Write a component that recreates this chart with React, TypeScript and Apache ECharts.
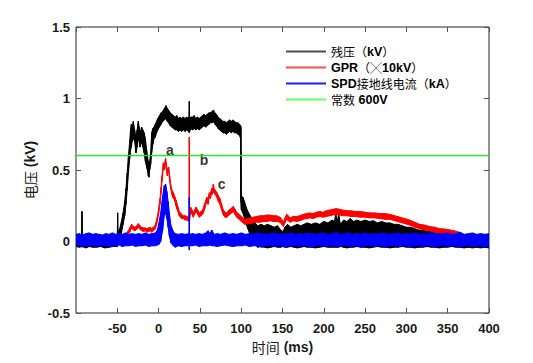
import React, { useEffect, useRef } from "react";
import * as echarts from "echarts";

// Axis ranges
const X_MIN = -100;
const X_MAX = 400;
const X_STEP = 50;
const Y_MIN = -0.5;
const Y_MAX = 1.5;
const Y_STEP = 0.5;

// 残压 (kV): [time ms, lower envelope, upper envelope]
const RESIDUAL: [number, number, number][] = [
  [-100, -0.035, 0.025], [-96, -0.04, 0.03], [-93.2, -0.035, 0.02], [-92.8, -0.04, 0.21], [-92.4, -0.035, 0.025],
  [-88, -0.045, 0.03], [-84, -0.035, 0.02], [-80, -0.04, 0.03], [-75, -0.04, 0.025], [-70, -0.035, 0.03],
  [-65, -0.045, 0.02], [-60, -0.04, 0.03], [-55, -0.035, 0.025], [-50, -0.035, 0.03], [-49.6, 0.0, 0.2],
  [-49.2, 0.0, 0.06], [-47, 0.02, 0.09], [-45, 0.06, 0.14], [-43, 0.12, 0.2], [-41, 0.18, 0.28],
  [-39.5, 0.26, 0.37], [-38, 0.36, 0.48], [-36.5, 0.48, 0.6], [-35, 0.58, 0.7], [-34, 0.64, 0.78],
  [-33, 0.66, 0.82], [-32, 0.7, 0.8], [-30.6, 0.72, 0.84], [-29, 0.7, 0.78], [-27.4, 0.62, 0.72],
  [-26, 0.66, 0.78], [-24.6, 0.72, 0.84], [-23.5, 0.7, 0.8], [-22.5, 0.66, 0.75], [-21.5, 0.68, 0.78],
  [-20.5, 0.7, 0.8], [-19, 0.66, 0.78], [-17.5, 0.62, 0.76], [-16, 0.56, 0.72], [-14.5, 0.52, 0.64],
  [-13.5, 0.5, 0.6], [-12.5, 0.46, 0.56], [-11.7, 0.45, 0.52], [-10.8, 0.5, 0.56], [-9.6, 0.54, 0.62],
  [-8.4, 0.62, 0.76], [-7, 0.68, 0.79], [-5.5, 0.72, 0.8], [-4, 0.73, 0.82], [-2.5, 0.76, 0.84],
  [-1, 0.78, 0.86], [1, 0.8, 0.88], [3, 0.82, 0.9], [5, 0.84, 0.91], [7, 0.85, 0.93],
  [9, 0.86, 0.95], [10.5, 0.84, 0.93], [12, 0.83, 0.92], [14, 0.81, 0.9], [16, 0.8, 0.89],
  [18, 0.79, 0.88], [20, 0.78, 0.87], [22, 0.78, 0.88], [24, 0.77, 0.86], [26, 0.78, 0.87],
  [28, 0.77, 0.86], [30, 0.78, 0.87], [32, 0.77, 0.86], [34, 0.78, 0.87], [36, 0.77, 0.86],
  [36.8, 0.78, 0.87], [37.2, 0.76, 0.98], [37.6, 0.77, 0.86], [39, 0.79, 0.87], [41, 0.78, 0.87],
  [43, 0.79, 0.88], [45, 0.78, 0.86], [47, 0.79, 0.87], [49, 0.78, 0.86], [51, 0.79, 0.87],
  [53, 0.8, 0.88], [55, 0.81, 0.89], [57, 0.8, 0.88], [59, 0.81, 0.89], [61, 0.82, 0.9],
  [63, 0.83, 0.9], [65, 0.83, 0.91], [66.5, 0.84, 0.92], [68, 0.82, 0.9], [70, 0.81, 0.89],
  [72, 0.79, 0.87], [74, 0.78, 0.86], [76, 0.77, 0.85], [78, 0.76, 0.84], [80, 0.76, 0.84],
  [82, 0.75, 0.83], [84, 0.76, 0.84], [86, 0.77, 0.85], [88, 0.76, 0.84], [90, 0.77, 0.85],
  [92, 0.76, 0.84], [94, 0.76, 0.83], [96, 0.75, 0.83], [98, 0.74, 0.82], [99.3, 0.72, 0.81],
  [99.6, 0.28, 0.8], [100.2, 0.22, 0.32], [102, 0.2, 0.31], [104, 0.16, 0.28], [106, 0.12, 0.24],
  [108, 0.09, 0.21], [110, 0.06, 0.19], [112, 0.03, 0.17], [114, 0.0, 0.16], [116, -0.02, 0.14],
  [118, -0.03, 0.12], [120, -0.04, 0.11], [124, -0.035, 0.12], [128, -0.04, 0.11], [132, -0.045, 0.12],
  [136, -0.04, 0.11], [140, -0.035, 0.1], [144, -0.04, 0.11], [148, -0.04, 0.08], [150, -0.035, 0.065],
  [153, -0.04, 0.1], [156, -0.04, 0.12], [160, -0.035, 0.1], [164, -0.04, 0.11], [168, -0.045, 0.12],
  [172, -0.04, 0.11], [176, -0.035, 0.12], [180, -0.04, 0.13], [185, -0.04, 0.12], [190, -0.045, 0.13],
  [195, -0.04, 0.12], [200, -0.035, 0.14], [205, -0.04, 0.13], [210, -0.04, 0.15], [213, -0.04, 0.14],
  [214.5, -0.04, 0.2], [216, -0.04, 0.13], [218, -0.04, 0.19], [220, -0.035, 0.12], [224, -0.04, 0.15],
  [228, -0.045, 0.14], [232, -0.04, 0.16], [236, -0.04, 0.14], [240, -0.035, 0.15], [245, -0.04, 0.14],
  [250, -0.04, 0.15], [255, -0.045, 0.14], [260, -0.04, 0.145], [265, -0.035, 0.13], [270, -0.04, 0.14],
  [275, -0.04, 0.13], [280, -0.045, 0.13], [285, -0.04, 0.12], [290, -0.04, 0.12], [295, -0.035, 0.11],
  [300, -0.04, 0.1], [305, -0.04, 0.1], [310, -0.045, 0.09], [315, -0.04, 0.08], [320, -0.04, 0.08],
  [325, -0.035, 0.07], [330, -0.04, 0.07], [335, -0.04, 0.065], [340, -0.045, 0.06], [345, -0.04, 0.06],
  [350, -0.04, 0.055], [355, -0.035, 0.055], [360, -0.04, 0.05], [365, -0.04, 0.04], [370, -0.045, 0.03],
  [375, -0.04, 0.03], [380, -0.045, 0.025], [385, -0.04, 0.03], [390, -0.045, 0.025], [395, -0.04, 0.03],
  [400, -0.045, 0.025],
];

// GPR (×10kV): [time ms, lower envelope, upper envelope]
const GPR: [number, number, number][] = [
  [-100, 0.01, 0.04], [-80, 0.01, 0.045], [-60, 0.015, 0.04], [-40, 0.02, 0.05], [-36.7, 0.05, 0.075],
  [-34.5, 0.07, 0.1], [-32.6, 0.095, 0.12], [-30.5, 0.08, 0.105], [-28.6, 0.075, 0.1], [-26.5, 0.085, 0.11],
  [-24.6, 0.1, 0.125], [-22.5, 0.085, 0.11], [-20.5, 0.075, 0.1], [-18, 0.07, 0.095], [-16, 0.075, 0.095],
  [-14.5, 0.065, 0.09], [-12, 0.07, 0.095], [-10, 0.075, 0.1], [-8.4, 0.065, 0.09], [-6.5, 0.075, 0.1],
  [-4.4, 0.085, 0.11], [-2.8, 0.11, 0.14], [-1.6, 0.14, 0.17], [0, 0.19, 0.23], [1.7, 0.26, 0.3],
  [3, 0.34, 0.38], [4.1, 0.42, 0.46], [5.7, 0.51, 0.55], [7, 0.5, 0.54], [8.5, 0.55, 0.58],
  [9.5, 0.5, 0.54], [10.5, 0.46, 0.5], [11.3, 0.48, 0.51], [12.2, 0.49, 0.52], [13.4, 0.42, 0.46],
  [14.6, 0.37, 0.4], [16, 0.33, 0.36], [17, 0.31, 0.35], [18.5, 0.3, 0.33], [19.8, 0.28, 0.31],
  [21, 0.25, 0.29], [21.9, 0.23, 0.27], [23.5, 0.21, 0.24], [25, 0.18, 0.21], [26.5, 0.17, 0.2],
  [27.9, 0.16, 0.19], [30, 0.16, 0.18], [32, 0.15, 0.18], [34, 0.15, 0.175], [36, 0.145, 0.17],
  [36.9, 0.14, 0.17], [37.2, 0.14, 0.73], [37.5, 0.15, 0.2], [38.8, 0.21, 0.24], [40.5, 0.19, 0.22],
  [42, 0.17, 0.2], [43.5, 0.19, 0.22], [45.3, 0.21, 0.24], [47.3, 0.19, 0.22], [49.3, 0.17, 0.2],
  [51.3, 0.18, 0.21], [53.3, 0.19, 0.22], [55.5, 0.22, 0.26], [58.2, 0.28, 0.31], [59.8, 0.26, 0.3],
  [61.4, 0.31, 0.34], [62.8, 0.3, 0.34], [64.2, 0.34, 0.37], [65.3, 0.33, 0.36], [66.2, 0.36, 0.4],
  [67.3, 0.34, 0.37], [68.5, 0.33, 0.36], [70.3, 0.31, 0.345], [72.3, 0.28, 0.32], [74.3, 0.26, 0.3],
  [76.3, 0.22, 0.26], [78.4, 0.185, 0.22], [80.4, 0.17, 0.205], [82.4, 0.17, 0.2], [84.4, 0.18, 0.215],
  [86.4, 0.19, 0.225], [88.5, 0.2, 0.235], [90.5, 0.21, 0.245], [92.5, 0.19, 0.225], [94.5, 0.17, 0.205],
  [96.5, 0.16, 0.195], [98.5, 0.15, 0.185], [101, 0.135, 0.17], [104.6, 0.12, 0.155], [107.5, 0.125, 0.16],
  [110.6, 0.125, 0.165], [114.5, 0.13, 0.17], [118.7, 0.135, 0.175], [123, 0.135, 0.18], [127, 0.14, 0.18],
  [131, 0.14, 0.185], [135, 0.145, 0.185], [139, 0.14, 0.18], [143, 0.14, 0.18], [147, 0.135, 0.17],
  [149, 0.12, 0.155], [151, 0.105, 0.135], [153, 0.13, 0.165], [155, 0.155, 0.19], [157, 0.145, 0.18],
  [159, 0.135, 0.165], [163, 0.145, 0.175], [167, 0.14, 0.175], [171, 0.145, 0.18], [175, 0.155, 0.19],
  [179, 0.16, 0.195], [183, 0.165, 0.2], [187, 0.16, 0.195], [191, 0.17, 0.205], [195, 0.175, 0.21],
  [199, 0.17, 0.205], [203, 0.175, 0.215], [207, 0.18, 0.22], [211, 0.185, 0.225], [215, 0.19, 0.23],
  [219, 0.185, 0.225], [223, 0.18, 0.22], [228, 0.18, 0.215], [233, 0.175, 0.215], [238, 0.175, 0.21],
  [244, 0.17, 0.21], [250, 0.17, 0.205], [256, 0.165, 0.2], [262, 0.165, 0.2], [268, 0.16, 0.195],
  [274, 0.155, 0.195], [280, 0.155, 0.19], [286, 0.145, 0.18], [292, 0.135, 0.17], [298, 0.125, 0.16],
  [304, 0.115, 0.15], [310, 0.1, 0.135], [316, 0.09, 0.12], [322, 0.08, 0.115], [328, 0.075, 0.105],
  [334, 0.065, 0.1], [340, 0.06, 0.09], [346, 0.058, 0.088], [352, 0.055, 0.082], [358, 0.05, 0.075],
  [364, 0.045, 0.065], [370, 0.02, 0.045], [380, 0.01, 0.04], [400, 0.01, 0.04],
];

// SPD 接地线电流 (kA): [time ms, lower envelope, upper envelope]
const SPD: [number, number, number][] = [
  [-100, -0.03, 0.05], [-96, -0.025, 0.055], [-92, -0.035, 0.045], [-88, -0.03, 0.055], [-84, -0.03, 0.06],
  [-80, -0.025, 0.05], [-76, -0.035, 0.055], [-72, -0.03, 0.05], [-68, -0.03, 0.045], [-64, -0.025, 0.055],
  [-60, -0.035, 0.05], [-56, -0.03, 0.06], [-52, -0.03, 0.05], [-48, -0.025, 0.055], [-44, -0.035, 0.05],
  [-40, -0.03, 0.06], [-36, -0.03, 0.05], [-32, -0.025, 0.055], [-28, -0.035, 0.05], [-24, -0.03, 0.055],
  [-20, -0.03, 0.05], [-16, -0.025, 0.06], [-12, -0.035, 0.05], [-8, -0.03, 0.055], [-4, -0.03, 0.06],
  [-1.5, -0.025, 0.08], [0.5, -0.02, 0.13], [2.5, 0.0, 0.2], [4.9, 0.08, 0.32], [6.9, 0.18, 0.39],
  [8.5, 0.2, 0.4], [10, 0.16, 0.35], [11.5, 0.1, 0.28], [13, 0.04, 0.2], [15, -0.01, 0.11],
  [17.8, -0.03, 0.07], [20, -0.04, 0.055], [24, -0.03, 0.05], [28, -0.035, 0.055], [32, -0.03, 0.05],
  [36.9, -0.03, 0.055], [37.2, -0.06, 0.31], [37.5, -0.03, 0.05], [41, -0.03, 0.055], [45, -0.025, 0.05],
  [49, -0.035, 0.055], [53, -0.03, 0.05], [57, -0.03, 0.06], [60, -0.03, 0.075], [62, -0.025, 0.055],
  [64.5, -0.03, 0.08], [67, -0.03, 0.05], [71, -0.035, 0.055], [75, -0.03, 0.05], [80, -0.025, 0.06],
  [85, -0.03, 0.05], [90, -0.035, 0.055], [95, -0.03, 0.05], [100, -0.03, 0.06], [105, -0.025, 0.05],
  [110, -0.035, 0.055], [115, -0.03, 0.05], [120, -0.03, 0.06], [125, -0.04, 0.055], [130, -0.03, 0.05],
  [135, -0.025, 0.055], [140, -0.035, 0.06], [145, -0.03, 0.05], [150, -0.03, 0.055], [155, -0.04, 0.05],
  [160, -0.03, 0.06], [165, -0.025, 0.05], [170, -0.035, 0.055], [175, -0.03, 0.05], [180, -0.03, 0.06],
  [185, -0.04, 0.055], [190, -0.03, 0.05], [195, -0.025, 0.055], [200, -0.035, 0.06], [205, -0.03, 0.05],
  [210, -0.03, 0.055], [215, -0.04, 0.065], [220, -0.03, 0.05], [225, -0.025, 0.055], [230, -0.035, 0.06],
  [235, -0.03, 0.05], [240, -0.03, 0.055], [245, -0.04, 0.05], [250, -0.03, 0.06], [255, -0.025, 0.05],
  [260, -0.035, 0.055], [265, -0.03, 0.05], [270, -0.03, 0.06], [275, -0.04, 0.055], [280, -0.03, 0.05],
  [285, -0.025, 0.055], [290, -0.035, 0.06], [295, -0.03, 0.05], [300, -0.03, 0.055], [305, -0.04, 0.05],
  [310, -0.03, 0.06], [315, -0.025, 0.05], [320, -0.035, 0.055], [325, -0.03, 0.05], [330, -0.03, 0.06],
  [335, -0.04, 0.055], [340, -0.03, 0.05], [345, -0.025, 0.055], [350, -0.035, 0.06], [355, -0.03, 0.05],
  [360, -0.03, 0.055], [365, -0.04, 0.065], [370, -0.03, 0.05], [375, -0.025, 0.055], [380, -0.035, 0.06],
  [385, -0.03, 0.05], [390, -0.03, 0.055], [395, -0.04, 0.05], [400, -0.03, 0.055],
];

// 常数 600V
const CONSTANT_KV = 0.6;

// Annotations a / b / c
const ANNOT_TEXT = ["a", "b", "c"];
const ANNOT_T = [13.8, 55, 76.4];
const ANNOT_V = [0.64, 0.57, 0.4];

const LEGEND_NAMES = ["残压（kV）", "GPR（╳10kV）", "SPD接地线电流（kA）", "常数 600V"];
const SERIES_COLORS = ["#000000", "#ff0000", "#0000ff", "#00ff00"];
const LEGEND_COLORS = ["#4d4d4d", "#ff4d4d", "#1a1aff", "#66ff66"];

const LATIN = "'Liberation Sans', Arial, sans-serif";
const CJK = "'Noto Sans CJK SC', sans-serif";

function toRich(s: string): string {
  const runs = s.match(/[\x00-\x7F]+|[^\x00-\x7F]+/g) || [];
  return runs.map((r) => (r.charCodeAt(0) < 128 ? `{b|${r}}` : `{n|${r}}`)).join("");
}

// Band between lower and upper envelopes, one quad per pair of neighbouring samples
function bandSeries(name: string, samples: [number, number, number][], color: string) {
  const segs: number[][] = [];
  for (let i = 0; i < samples.length - 1; i++) {
    const a = samples[i];
    const b = samples[i + 1];
    segs.push([a[0], a[1], a[2], b[0], b[1], b[2]]);
  }
  return {
    type: "custom",
    name,
    silent: true,
    clip: true,
    itemStyle: { color },
    encode: { x: [0, 3], y: [1, 2, 4, 5] },
    data: segs,
    renderItem: (_params: any, api: any) => {
      const p1 = api.coord([api.value(0), api.value(1)]);
      const p2 = api.coord([api.value(3), api.value(4)]);
      const p3 = api.coord([api.value(3), api.value(5)]);
      const p4 = api.coord([api.value(0), api.value(2)]);
      return {
        type: "polygon",
        shape: { points: [p1, p2, p3, p4] },
        style: { fill: color, stroke: color, lineWidth: 1, lineJoin: "round" },
      };
    },
  };
}

export default function App() {
  const ref = useRef<HTMLDivElement>(null);

  useEffect(() => {
    if (!ref.current) return;
    const chart = echarts.init(ref.current, undefined, { renderer: "svg" });

    const tickLabel = {
      fontFamily: LATIN,
      fontWeight: "bold" as const,
      fontSize: 13,
      color: "#1a1a1a",
    };
    const nameRich = {
      n: { fontFamily: CJK, fontSize: 14, color: "#1a1a1a" },
      b: { fontFamily: LATIN, fontWeight: "bold", fontSize: 14, color: "#1a1a1a" },
    };
    const tick = { show: true, inside: true, length: 5, lineStyle: { color: "#555", width: 1 } };
    const noLine = { show: false, onZero: false };

    const annotData = ANNOT_TEXT.map((txt, i) => ({ name: txt, value: [ANNOT_T[i], ANNOT_V[i]] }));

    const option: any = {
      animation: false,
      backgroundColor: "#ffffff",
      grid: {
        left: 76,
        top: 27,
        right: 44,
        bottom: 50,
        show: true,
        borderColor: "#262626",
        borderWidth: 1,
        backgroundColor: "transparent",
      },
      legend: {
        orient: "vertical",
        left: 286,
        top: 45,
        padding: 0,
        itemWidth: 40,
        itemHeight: 2,
        itemGap: 3,
        icon: "rect",
        data: LEGEND_NAMES.map((n, i) => ({ name: n, itemStyle: { color: LEGEND_COLORS[i] } })),
        formatter: (name: string) => toRich(name),
        textStyle: {
          fontSize: 12,
          color: "#000",
          rich: {
            n: { fontFamily: CJK, fontSize: 12, lineHeight: 14, color: "#000" },
            b: { fontFamily: LATIN, fontWeight: "bold", fontSize: 12.5, lineHeight: 14, color: "#000" },
          },
        },
        selectedMode: false,
      },
      xAxis: [
        {
          type: "value",
          min: X_MIN,
          max: X_MAX,
          interval: X_STEP,
          position: "bottom",
          axisLine: noLine,
          axisTick: tick,
          splitLine: { show: false },
          axisLabel: { ...tickLabel, margin: 9, showMinLabel: false },
          name: toRich("时间 (ms)"),
          nameLocation: "middle",
          nameGap: 22,
          nameTextStyle: { rich: nameRich },
        },
        {
          type: "value",
          min: X_MIN,
          max: X_MAX,
          interval: X_STEP,
          position: "top",
          axisLine: noLine,
          axisTick: tick,
          splitLine: { show: false },
          axisLabel: { show: false },
        },
      ],
      yAxis: [
        {
          type: "value",
          min: Y_MIN,
          max: Y_MAX,
          interval: Y_STEP,
          position: "left",
          axisLine: noLine,
          axisTick: tick,
          splitLine: { show: false },
          axisLabel: { ...tickLabel, margin: 6 },
          name: toRich("电压 (kV)"),
          nameLocation: "middle",
          nameRotate: 90,
          nameGap: 30,
          nameTextStyle: { rich: nameRich },
        },
        {
          type: "value",
          min: Y_MIN,
          max: Y_MAX,
          interval: Y_STEP,
          position: "right",
          axisLine: noLine,
          axisTick: tick,
          splitLine: { show: false },
          axisLabel: { show: false },
        },
      ],
      series: [
        bandSeries(LEGEND_NAMES[0], RESIDUAL, SERIES_COLORS[0]),
        bandSeries(LEGEND_NAMES[1], GPR, SERIES_COLORS[1]),
        bandSeries(LEGEND_NAMES[2], SPD, SERIES_COLORS[2]),
        {
          type: "line",
          name: LEGEND_NAMES[3],
          data: [
            [X_MIN, CONSTANT_KV],
            [X_MAX, CONSTANT_KV],
          ],
          symbol: "none",
          silent: true,
          lineStyle: { color: SERIES_COLORS[3], width: 1.2 },
          itemStyle: { color: SERIES_COLORS[3] },
        },
        {
          type: "scatter",
          name: "annotations",
          data: annotData,
          symbolSize: 0,
          silent: true,
          label: {
            show: true,
            position: "inside",
            formatter: (p: any) => p.name,
            fontFamily: LATIN,
            fontWeight: "bold",
            fontSize: 14,
            color: "#000",
          },
        },
      ],
    };

    chart.setOption(option);
    return () => chart.dispose();
  }, []);

  return (
    <div
      ref={ref}
      style={{ position: "fixed", left: 0, top: 0, width: 533, height: 363, background: "#fff" }}
    />
  );
}
